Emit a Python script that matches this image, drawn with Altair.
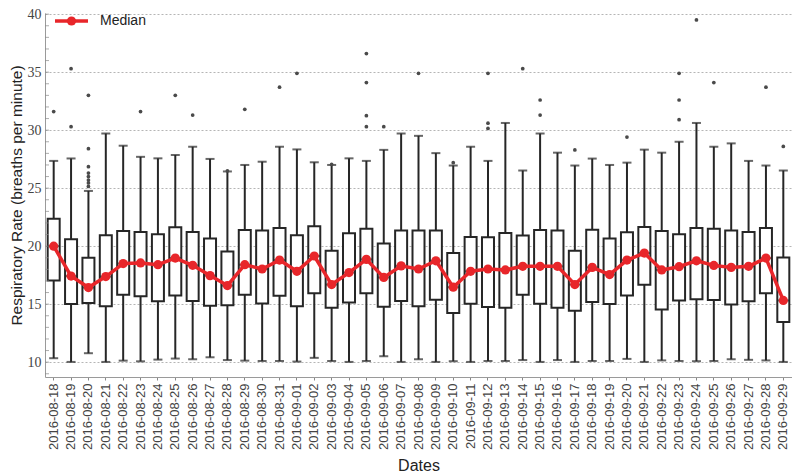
import altair as alt
import pandas as pd

dates = ["2016-08-18", "2016-08-19", "2016-08-20", "2016-08-21", "2016-08-22", "2016-08-23",
         "2016-08-24", "2016-08-25", "2016-08-26", "2016-08-27", "2016-08-28", "2016-08-29",
         "2016-08-30", "2016-08-31", "2016-09-01", "2016-09-02", "2016-09-03", "2016-09-04",
         "2016-09-05", "2016-09-06", "2016-09-07", "2016-09-08", "2016-09-09", "2016-09-10",
         "2016-09-11", "2016-09-12", "2016-09-13", "2016-09-14", "2016-09-15", "2016-09-16",
         "2016-09-17", "2016-09-18", "2016-09-19", "2016-09-20", "2016-09-21", "2016-09-22",
         "2016-09-23", "2016-09-24", "2016-09-25", "2016-09-26", "2016-09-27", "2016-09-28",
         "2016-09-29"]

whisker_low = [10.34, 10.02, 10.77, 10.02, 10.13, 10.07, 10.22, 10.31, 10.25, 10.42, 10.18, 10.13,
               10.10, 10.10, 10.05, 10.37, 10.10, 10.02, 10.10, 10.51, 10.02, 10.25, 10.02, 10.08,
               10.02, 10.10, 10.10, 10.18, 10.02, 10.18, 10.02, 10.10, 10.10, 10.28, 10.02, 10.15,
               10.10, 10.08, 10.10, 10.25, 10.20, 10.15, 10.02]
q1 = [17.03, 15.01, 15.10, 14.81, 15.81, 15.69, 15.24, 15.75, 15.27, 14.87, 14.90, 15.81,
      15.06, 15.73, 14.81, 15.95, 14.70, 15.15, 15.95, 14.78, 15.27, 14.81, 15.38, 14.24,
      15.04, 14.75, 14.70, 15.81, 15.04, 14.70, 14.44, 15.18, 15.01, 15.75, 16.67, 14.53,
      15.32, 15.43, 15.35, 14.96, 15.24, 15.93, 13.47]
median = [20.00, 17.42, 16.43, 17.38, 18.50, 18.55, 18.40, 18.97, 18.35, 17.46, 16.60, 18.40,
          18.03, 18.80, 17.83, 19.15, 16.69, 17.72, 18.86, 17.30, 18.30, 18.03, 18.74, 16.46,
          17.83, 18.03, 17.95, 18.26, 18.26, 18.26, 16.69, 18.17, 17.55, 18.80, 19.40, 17.95,
          18.23, 18.74, 18.34, 18.17, 18.26, 18.97, 15.32]
q3 = [22.36, 20.60, 19.00, 20.94, 21.31, 21.22, 21.03, 21.62, 21.22, 20.65, 19.54, 21.39,
      21.36, 21.56, 20.94, 21.71, 19.60, 21.11, 21.50, 20.22, 21.36, 21.36, 21.36, 19.40,
      20.80, 20.77, 21.14, 20.91, 21.39, 21.36, 19.60, 21.42, 20.65, 21.20, 21.65, 21.31,
      21.03, 21.56, 21.50, 21.36, 21.22, 21.56, 19.03]
whisker_high = [27.35, 27.56, 24.76, 29.71, 28.66, 27.70, 27.57, 27.86, 28.57, 27.52, 26.44, 27.00,
                27.28, 28.57, 28.34, 27.23, 27.00, 27.57, 27.35, 28.30, 29.71, 29.51, 28.02, 26.95,
                28.57, 27.35, 30.62, 26.52, 29.71, 28.06, 26.95, 27.55, 27.00, 27.20, 28.32, 28.06,
                29.00, 30.62, 28.57, 28.86, 27.35, 26.95, 26.52]

outlier_date = ["2016-08-18",
                "2016-08-19", "2016-08-19",
                "2016-08-20", "2016-08-20", "2016-08-20", "2016-08-20", "2016-08-20",
                "2016-08-20", "2016-08-20", "2016-08-20",
                "2016-08-23", "2016-08-25", "2016-08-26", "2016-08-28", "2016-08-29",
                "2016-08-31", "2016-09-01", "2016-09-03",
                "2016-09-05", "2016-09-05", "2016-09-05", "2016-09-05",
                "2016-09-06", "2016-09-08", "2016-09-10",
                "2016-09-12", "2016-09-12", "2016-09-12",
                "2016-09-14", "2016-09-15", "2016-09-15", "2016-09-17", "2016-09-20",
                "2016-09-23", "2016-09-23", "2016-09-23",
                "2016-09-24", "2016-09-25", "2016-09-28", "2016-09-29"]
outlier_value = [31.6,
                 35.3, 30.3,
                 33.0, 28.4, 26.85, 26.3, 26.0, 25.7, 25.45, 25.15,
                 31.6, 33.0, 31.3, 26.5, 31.8,
                 33.7, 34.9, 27.05,
                 36.6, 34.1, 31.25, 30.3,
                 30.3, 34.9, 27.2,
                 34.9, 30.6, 30.15,
                 35.3, 32.6, 31.3, 28.3, 29.4,
                 34.9, 32.6, 30.9,
                 39.5, 34.1, 33.7, 28.6]

y_ticks = [10, 15, 20, 25, 30, 35, 40]
y_minor = list(range(9, 41))

df = pd.DataFrame({"date": dates, "lo": whisker_low, "q1": q1, "med": median,
                   "q3": q3, "hi": whisker_high})
out = pd.DataFrame({"date": outlier_date, "value": outlier_value})
minor = pd.DataFrame({"v": y_minor})
legend_df = pd.DataFrame({"label": ["Median"]})

W, H = 747, 364
Y_DOMAIN = [8.72, 40.1]
BOX = "#262626"
RED = "#e8262a"

yscale = alt.Scale(domain=Y_DOMAIN, nice=False, zero=False)
y_axis = alt.Axis(values=y_ticks, title="Respiratory Rate (breaths per minute)",
                  grid=True, gridDash=[2, 2], gridColor="#b5b5b5", gridWidth=1,
                  ticks=False, domain=True, domainColor="#9a9a9a", domainWidth=1,
                  labelFont="Liberation Serif", labelFontSize=14, labelColor="#444",
                  labelPadding=4, titleFont="Liberation Sans", titleFontSize=15.5,
                  titleFontWeight="normal", titleColor="#222", titlePadding=3)
x_axis = alt.Axis(title="Dates", labelAngle=270, labelFont="Liberation Sans",
                  labelFontSize=13, labelColor="#444", labelPadding=3,
                  ticks=True, tickSize=3, tickColor="#888", domainColor="#9a9a9a",
                  grid=False, titleFont="Liberation Sans", titleFontSize=16,
                  titleFontWeight="normal", titleColor="#222", titlePadding=8)

xenc = alt.X("date:N", sort=dates, scale=alt.Scale(paddingInner=0, paddingOuter=0),
             axis=x_axis)

base = alt.Chart(df)

whisk = base.mark_rule(color=BOX, strokeWidth=2).encode(
    x=xenc, y=alt.Y("lo:Q", scale=yscale, axis=y_axis), y2="hi:Q")
cap_lo = base.mark_tick(orient="horizontal", size=9, thickness=2, color=BOX).encode(
    x=xenc, y=alt.Y("lo:Q", scale=yscale, axis=y_axis))
cap_hi = base.mark_tick(orient="horizontal", size=9, thickness=2, color=BOX).encode(
    x=xenc, y=alt.Y("hi:Q", scale=yscale, axis=y_axis))
box = base.mark_bar(size=12, fill="white", stroke=BOX, strokeWidth=2).encode(
    x=xenc, y=alt.Y("q1:Q", scale=yscale, axis=y_axis), y2="q3:Q")
med_tick = base.mark_tick(orient="horizontal", size=12, thickness=2, color=BOX).encode(
    x=xenc, y=alt.Y("med:Q", scale=yscale, axis=y_axis))
outliers = alt.Chart(out).mark_circle(size=14, color="#4a4a4a", opacity=1).encode(
    x=xenc, y=alt.Y("value:Q", scale=yscale, axis=y_axis))
med_line = base.mark_line(color=RED, strokeWidth=3.5, strokeJoin="round").encode(
    x=xenc, y=alt.Y("med:Q", scale=yscale, axis=y_axis))
med_pts = base.mark_circle(size=85, color=RED, opacity=1).encode(
    x=xenc, y=alt.Y("med:Q", scale=yscale, axis=y_axis))
minor_ticks = alt.Chart(minor).mark_tick(orient="horizontal", size=4, thickness=1,
                                         color="#8a8a8a").encode(
    x=alt.value(2), y=alt.Y("v:Q", scale=yscale, axis=y_axis))

leg_line = alt.Chart(legend_df).mark_rule(color=RED, strokeWidth=3.5).encode(
    x=alt.value(10), x2=alt.value(43), y=alt.value(8))
leg_pt = alt.Chart(legend_df).mark_circle(size=85, color=RED, opacity=1).encode(
    x=alt.value(26.5), y=alt.value(8))
leg_txt = alt.Chart(legend_df).mark_text(align="left", baseline="middle",
                                         font="Liberation Sans", fontSize=14,
                                         color="#222").encode(
    x=alt.value(55), y=alt.value(8), text="label:N")

chart = alt.layer(whisk, cap_lo, cap_hi, box, med_tick, outliers, med_line, med_pts,
                  minor_ticks, leg_line, leg_pt, leg_txt).properties(
    width=W, height=H,
    padding={"left": 37, "top": 5, "right": 0, "bottom": 96},
    autosize=alt.AutoSizeParams(type="none"),
    background="white",
).configure_view(stroke=None)

chart.save("out.html", embed_options={"renderer": "svg", "actions": False})
